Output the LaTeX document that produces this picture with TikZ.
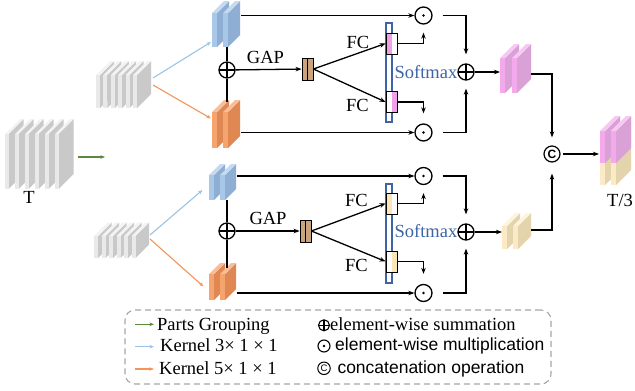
\documentclass[tikz,border=0pt]{standalone}
\usepackage{fontspec}
\setmainfont{Liberation Serif}
\setsansfont{Liberation Sans}
\usetikzlibrary{arrows.meta,calc}

% face colours of the feature slabs
\definecolor{grF}{HTML}{E9E9E9}
\definecolor{grS}{HTML}{C9C9C9}
\definecolor{grT}{HTML}{F3F3F3}
\definecolor{blF}{HTML}{A9C8E8}
\definecolor{blS}{HTML}{8EAFD3}
\definecolor{blT}{HTML}{C3DAF1}
\definecolor{orF}{HTML}{F5A46E}
\definecolor{orS}{HTML}{E08854}
\definecolor{orT}{HTML}{F9BE95}
\definecolor{pkF}{HTML}{F3A9EC}
\definecolor{pkS}{HTML}{D9A1D5}
\definecolor{pkT}{HTML}{F7C8F3}
\definecolor{crF}{HTML}{FCEAC6}
\definecolor{crS}{HTML}{E3D4AE}
\definecolor{crT}{HTML}{FEF3DE}
% other colours
\definecolor{gapcol}{HTML}{C9A47F}
\definecolor{fcpink}{HTML}{F0A0E8}
\definecolor{fccream}{HTML}{FBE6B8}
\definecolor{smblue}{HTML}{3F64A6}
\definecolor{grouping}{HTML}{5A8A3A}
\definecolor{kthree}{HTML}{9DC3E6}
\definecolor{kfive}{HTML}{F4945A}
\definecolor{legendgray}{HTML}{A6A6A6}

% one slab: x, front top, front bottom, front width, depth, front/side/top colours
\newcommand\drawslab[8]{%
  \fill[#7] (#1+#4,#2) -- (#1+#4+#5,#2-#5) -- (#1+#4+#5,#3-#5) -- (#1+#4,#3) -- cycle;
  \fill[#8] (#1,#2) -- (#1+#5,#2-#5) -- (#1+#4+#5,#2-#5) -- (#1+#4,#2) -- cycle;
  \fill[#6] (#1,#2) rectangle (#1+#4,#3);
}

\begin{document}
\begin{tikzpicture}[x=1pt,y=-1pt,
  conn/.style={line width=1.3pt,-{Stealth[length=6pt,width=4.5pt]}},
  plain/.style={line width=1.3pt},
  thinarrow/.style={line width=1.1pt,-{Stealth[length=4.5pt,width=3.5pt]}},
  lbl/.style={font=\fontsize{18.5}{20}\selectfont,inner sep=0pt},
  slbl/.style={font=\sffamily\fontsize{17.5}{20}\selectfont,inner sep=0pt},
  plusop/.style={circle,draw,line width=1.3pt,minimum size=#1,inner sep=0pt,
    path picture={\draw[line width=1.3pt]
      (path picture bounding box.north) -- (path picture bounding box.south)
      (path picture bounding box.west) -- (path picture bounding box.east);}},
  plusop/.default=16pt,
  dotop/.style={circle,draw,line width=1.3pt,minimum size=#1,inner sep=0pt,
    path picture={\fill (path picture bounding box.center) circle (1.4pt);}},
  dotop/.default=17pt,
  catop/.style={circle,draw,line width=1.2pt,minimum size=#1,inner sep=0pt,
    font=\sffamily\bfseries\fontsize{12}{12}\selectfont},
  catop/.default=16pt,
  gapbox/.style={rectangle,draw,line width=0.8pt,fill=gapcol,minimum width=11pt,
    minimum height=22pt,inner sep=0pt,
    path picture={\draw[line width=0.8pt] (path picture bounding box.north)
      -- (path picture bounding box.south);}},
  fcleft/.style={rectangle,draw,line width=0.8pt,fill=white,minimum width=11pt,
    minimum height=21pt,inner sep=0pt,
    path picture={\fill[#1] (path picture bounding box.south west)
      rectangle ([xshift=6pt]path picture bounding box.north west);}},
  fcright/.style={rectangle,draw,line width=0.8pt,fill=white,minimum width=11pt,
    minimum height=21pt,inner sep=0pt,
    path picture={\fill[#1] ([xshift=6pt]path picture bounding box.south west)
      rectangle (path picture bounding box.north east);}},
  softbar/.style={rectangle,draw=smblue,line width=1.1pt,fill=white,
    minimum width=6pt,minimum height=99pt,inner sep=0pt},
]
\fill[white] (0,0) rectangle (635,391);
\useasboundingbox (0,0) rectangle (635,391);

% ---- input feature stacks
\foreach \i in {0,...,5} {\drawslab{5+10*\i}{134}{189}{3.5}{15}{grF}{grS}{grT}}
\node[lbl,anchor=base] (tlab) at (29,203.3) {T};
\foreach \i in {0,...,5} {\drawslab{96+7.4*\i}{75}{108}{4}{14}{grF}{grS}{grT}}
\foreach \i in {0,...,5} {\drawslab{94+7.5*\i}{236}{258}{4}{13.5}{grF}{grS}{grT}}

% ---- branch outputs
\drawslab{212}{13}{47}{5}{12}{blF}{blS}{blT}
\drawslab{223}{13}{47}{5}{12}{blF}{blS}{blT}
\drawslab{212}{112}{148}{5}{12}{orF}{orS}{orT}
\drawslab{223}{112}{148}{5}{12}{orF}{orS}{orT}
\drawslab{209}{175}{200}{5}{11}{blF}{blS}{blT}
\drawslab{220}{175}{200}{5}{11}{blF}{blS}{blT}
\drawslab{209}{274}{300}{5}{11}{orF}{orS}{orT}
\drawslab{220}{274}{300}{5}{11}{orF}{orS}{orT}

% ---- fused outputs
\drawslab{500}{58}{93}{5}{14}{pkF}{pkS}{pkT}
\drawslab{512}{58}{93}{5}{14}{pkF}{pkS}{pkT}
\drawslab{502}{226}{249}{5}{13}{crF}{crS}{crT}
\drawslab{513}{226}{249}{5}{13}{crF}{crS}{crT}
\drawslab{600}{131}{185}{5}{15}{crF}{crS}{crT}
\drawslab{600}{131}{163}{5}{15}{pkF}{pkS}{pkT}
\drawslab{611}{131}{185}{5}{15}{crF}{crS}{crT}
\drawslab{611}{131}{163}{5}{15}{pkF}{pkS}{pkT}
\node[lbl,anchor=base west] (t3lab) at (607,206.7) {T/3};

% ---- connection points on the stacks
\coordinate (tout) at (78,157);
\coordinate (grp) at (105,157);
\coordinate (s1b) at (153,78);
\coordinate (s1o) at (153,85);
\coordinate (b1in) at (211,42);
\coordinate (o1in) at (211,118.5);
\coordinate (s2b) at (150,235);
\coordinate (s2o) at (150,239);
\coordinate (b2in) at (202.5,190);
\coordinate (o2in) at (203.5,286.5);
\coordinate (b1bot) at (227,47);
\coordinate (o1top) at (227,102);
\coordinate (b2bot) at (227,200);
\coordinate (o2top) at (227,268);
\coordinate (b1out) at (241,15.5);
\coordinate (o1out) at (241,132.5);
\coordinate (b2out) at (237,176);
\coordinate (o2out) at (237,293);
\coordinate (pkin) at (500,72);
\coordinate (pkout) at (531,74);
\coordinate (crin) at (502,232);
\coordinate (crout) at (531,230);
\coordinate (finin) at (599,154);

\draw[grouping,thinarrow] (tout) -- (grp);
\draw[kthree,thinarrow] (s1b) -- (b1in);
\draw[kfive,thinarrow] (s1o) -- (o1in);
\draw[kthree,thinarrow] (s2b) -- (b2in);
\draw[kfive,thinarrow] (s2o) -- (o2in);

% ---- upper selective-kernel block
\node[plusop] (p1) at (227,70) {};
\draw[plain] (b1bot) -- (p1) -- (o1top);
\node[gapbox] (g1) at (307.5,69) {};
\node[lbl,anchor=base west] (gap1) at (246.7,63.3) {GAP};
\draw[conn] (p1) -- (g1);
\node[softbar] (sm1) at (389,72.5) {};
\node[fcleft=fcpink] (f1a) at (391.5,43.5) {};
\node[fcright=fcpink] (f1b) at (391.5,102) {};
\node[lbl,anchor=base west] (fc1a) at (346.5,48.3) {FC};
\node[lbl,anchor=base west] (fc1b) at (346,111.7) {FC};
\draw[conn] (g1.east) -- (f1a.west);
\draw[conn] (g1.east) -- (f1b.west);
\node[dotop] (m1a) at (423.5,15.5) {};
\node[dotop] (m1b) at (423.5,132.5) {};
\draw[conn] (b1out) -- (m1a);
\draw[conn] (o1out) -- (m1b);
\draw[conn,shorten >=8pt] (f1a.east) -| (m1a.south);
\draw[conn,shorten >=10pt] (f1b.east) -| (m1b.north);
\node[plusop] (p2) at (466,72) {};
\node[lbl,anchor=base east,text=smblue] (smx1) at (457.5,78.3) {Softmax};
\draw[conn,shorten <=10pt,shorten >=9pt] (m1a.east) -| (p2.north);
\draw[conn,shorten <=10pt,shorten >=8pt] (m1b.east) -| (p2.south);
\draw[conn] (p2) -- (pkin);

% ---- lower selective-kernel block
\node[plusop] (p3) at (227,231) {};
\draw[plain] (b2bot) -- (p3) -- (o2top);
\node[gapbox] (g2) at (305.5,231) {};
\node[lbl,anchor=base west] (gap2) at (249.3,224) {GAP};
\draw[conn] (p3) -- (g2);
\node[softbar] (sm2) at (389,233.5) {};
\node[fcleft=fccream] (f2a) at (391.5,203.5) {};
\node[fcright=fccream] (f2b) at (391.5,261.5) {};
\node[lbl,anchor=base west] (fc2a) at (345,206.7) {FC};
\node[lbl,anchor=base west] (fc2b) at (345,271) {FC};
\draw[conn] (g2.east) -- (f2a.west);
\draw[conn] (g2.east) -- (f2b.west);
\node[dotop] (m2a) at (423.5,176) {};
\node[dotop] (m2b) at (423.5,293) {};
\draw[conn] (b2out) -- (m2a);
\draw[conn] (o2out) -- (m2b);
\draw[conn,shorten >=8pt] (f2a.east) -| (m2a.south);
\draw[conn,shorten >=10pt] (f2b.east) -| (m2b.north);
\node[plusop] (p4) at (466,232) {};
\node[lbl,anchor=base east,text=smblue] (smx2) at (457.5,237.3) {Softmax};
\draw[conn,shorten <=10pt,shorten >=9pt] (m2a.east) -| (p4.north);
\draw[conn,shorten <=10pt,shorten >=8pt] (m2b.east) -| (p4.south);
\draw[conn] (p4) -- (crin);

% ---- concatenation
\node[catop] (cc) at (552,154) {C};
\draw[conn,shorten >=8pt] (pkout) -| (cc.north);
\draw[conn,shorten >=11pt] (crout) -| (cc.south);
\draw[conn,shorten <=2pt] (cc) -- (finin);

% ---- legend
\node[draw=legendgray,dash pattern=on 6pt off 4pt,line width=1.1pt,rounded corners=10pt,
  minimum width=426pt,minimum height=74pt,inner sep=0pt] (leg) at (338,347) {};
\coordinate (la1) at (135,324.3);
\coordinate (lb1) at (154,324.3);
\coordinate (la2) at (135,346.7);
\coordinate (lb2) at (154,346.7);
\coordinate (la3) at (135,369);
\coordinate (lb3) at (154,369);
\draw[grouping,thinarrow] (la1) -- (lb1);
\draw[kthree,thinarrow] (la2) -- (lb2);
\draw[kfive,thinarrow] (la3) -- (lb3);
\node[lbl,anchor=base west] (lt1) at (157,330) {Parts Grouping};
\node[lbl,anchor=base west] (lt2) at (160,351.7) {Kernel 3× 1 × 1};
\node[lbl,anchor=base west] (lt3) at (159,374) {Kernel 5× 1 × 1};
\node[plusop=11pt,line width=1.1pt] (ls1) at (324,325.3) {};
\node[dotop=12pt,line width=1.1pt] (ls2) at (324,346) {};
\node[catop=12.5pt,line width=1pt,font=\sffamily\fontsize{9.5}{9.5}\selectfont] (ls3) at (324,368.3) {C};
\node[lbl,anchor=base west] (lr1) at (330,330.7) {element-wise summation};
\node[slbl,anchor=base west] (lr2) at (335,350) {element-wise multiplication};
\node[slbl,anchor=base west] (lr3) at (337.3,373.3) {concatenation operation};
\end{tikzpicture}
\end{document}
